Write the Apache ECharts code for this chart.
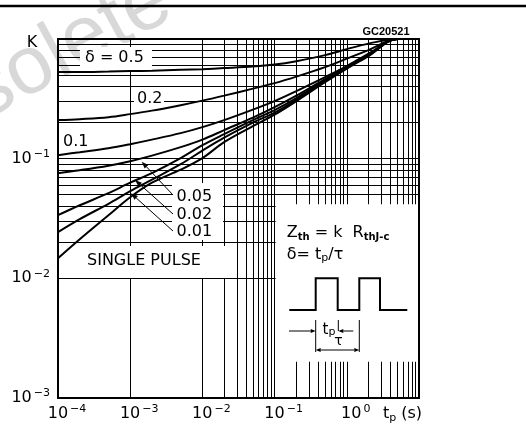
<!DOCTYPE html>
<html>
<head>
<meta charset="utf-8">
<script src="https://cdn.jsdelivr.net/npm/echarts@6/dist/echarts.min.js"></script>
<style>
html, body { margin: 0; padding: 0; background: #fff; }
#chart { width: 526px; height: 432px; }
</style>
</head>
<body>
<div id="chart"></div>
<script>
// pulse duration tp (s)
const tp = [1e-4, 2e-4, 5e-4, 1e-3, 2e-3, 5e-3, 1e-2, 2e-2, 5e-2, 1e-1, 2e-1, 5e-1, 1, 2, 5, 10];

// K = Zth / RthJ-c, one array per duty cycle
const k050 = [0.529, 0.529, 0.534, 0.539, 0.544, 0.553, 0.56, 0.571, 0.588, 0.611, 0.653, 0.733, 0.823, 0.915, 1, 1];
const k020 = [0.21, 0.214, 0.222, 0.2356, 0.252, 0.28, 0.3054, 0.3364, 0.3848, 0.4278, 0.485, 0.5823, 0.6857, 0.8076, 1, 1];
const k010 = [0.107, 0.1133, 0.1224, 0.1322, 0.1442, 0.1634, 0.1834, 0.2099, 0.2569, 0.3025, 0.3667, 0.4802, 0.5935, 0.755, 1, 1];
const k005 = [0.0757, 0.0801, 0.0874, 0.0953, 0.106, 0.1248, 0.1442, 0.1731, 0.2202, 0.2695, 0.3364, 0.4622, 0.5823, 0.7406, 1, 1];
const k002 = [0.0337, 0.0408, 0.0515, 0.063, 0.0757, 0.101, 0.1297, 0.1603, 0.2099, 0.2544, 0.3205, 0.4534, 0.5767, 0.7334, 1, 1];
const k001 = [0.0243, 0.0312, 0.042, 0.0535, 0.0667, 0.0899, 0.1167, 0.1498, 0.2, 0.2425, 0.3113, 0.4446, 0.571, 0.7263, 1, 1];
const kSingle = [0.01473, 0.02123, 0.0337, 0.0476, 0.063, 0.0809, 0.101, 0.1374, 0.1869, 0.2333, 0.3025, 0.4362, 0.5655, 0.7194, 1, 1];

// tick labels (exponents) and log grid
const xExp = ['−4', '−3', '−2', '−1', '0'];
const yExp = ['−3', '−2', '−1'];
const xDecades = [1e-4, 1e-3, 1e-2, 1e-1, 1];
const yDecades = [1e-3, 1e-2, 1e-1];
const minorSteps = [2, 3, 4, 5, 6, 7, 8, 9];

const FONT = 'DejaVu Sans';
const chart = echarts.init(document.getElementById('chart'));

function curve(vals) {
    return {
        type: 'line',
        data: tp.map((t, i) => [t, vals[i]]),
        symbol: 'none',
        smooth: 0.35,
        silent: true,
        z: 10,
        lineStyle: { color: '#000', width: 2 }
    };
}

let minorLines = [];
xDecades.forEach(d => minorSteps.forEach(m => minorLines.push({ xAxis: m * d })));
yDecades.forEach(d => minorSteps.forEach(m => minorLines.push({ yAxis: m * d })));

// annotation helpers
function box(x, y, w, h) {
    return { type: 'rect', zlevel: 1, z: 6, z2: 0, silent: true, shape: { x: x, y: y, width: w, height: h }, style: { fill: '#fff' } };
}
function text(x, y, t, extra) {
    return {
        type: 'text', zlevel: 1, z: 6, z2: 20, silent: true, x: x, y: y,
        style: Object.assign({ text: t, fontFamily: FONT, fontSize: 16, fill: '#000', align: 'left', verticalAlign: 'middle' }, extra || {})
    };
}
function seg(x1, y1, x2, y2, w) {
    return { type: 'line', zlevel: 1, z: 6, z2: 20, silent: true, shape: { x1: x1, y1: y1, x2: x2, y2: y2 }, style: { stroke: '#000', lineWidth: w || 1 } };
}
function arrow(x1, y1, x2, y2, len, half) {
    let a = Math.atan2(y2 - y1, x2 - x1);
    let bx = x2 - len * Math.cos(a), by = y2 - len * Math.sin(a);
    let px = -Math.sin(a) * half, py = Math.cos(a) * half;
    return [
        seg(x1, y1, bx, by, 1),
        { type: 'polygon', zlevel: 1, z: 6, z2: 20, silent: true, shape: { points: [[x2, y2], [bx + px, by + py], [bx - px, by - py]] }, style: { fill: '#000' } }
    ];
}

const supRich = {
    b: { fontFamily: FONT, fontSize: 16, lineHeight: 20, color: '#000' },
    bx: { fontFamily: FONT, fontSize: 16, lineHeight: 20, color: '#000', padding: [0, 0, 0, 18] },
    e: { fontFamily: FONT, fontSize: 11, lineHeight: 11, verticalAlign: 'top', color: '#000', padding: [0, 0, 0, 2] },
    t: { fontFamily: FONT, fontSize: 16, lineHeight: 20, color: '#000' },
    t2: { fontFamily: FONT, fontSize: 16, lineHeight: 20, color: '#000', padding: [0, 33, 0, 0] },
    p: { fontFamily: FONT, fontSize: 11, lineHeight: 11, verticalAlign: 'bottom', color: '#000' }
};

const subRich = {
    m: { fontFamily: FONT, fontSize: 16, lineHeight: 18 },
    s: { fontFamily: FONT, fontSize: 10, fontWeight: 'bold', lineHeight: 10, verticalAlign: 'bottom' }
};

let graphics = [
    // watermark, kept on the base layer under the plot
    { type: 'text', zlevel: 0, z: -1, silent: true, x: -103, y: 189, rotation: 0.5,
      style: { text: 'Obsolete', fontFamily: 'Liberation Sans', fontSize: 82, fill: '#d8d8d8', align: 'left', verticalAlign: 'bottom' } },
    seg(0, 6, 526, 6, 2.5),
    text(386, 32, 'GC20521', { fontFamily: 'Liberation Sans', fontWeight: 'bold', fontSize: 11, align: 'center' }),
    text(32, 43, 'K', { align: 'center' }),
    // label boxes
    box(80, 47, 72, 23),
    box(134, 91.5, 30, 15.5),
    box(62, 135, 26, 13),
    box(172, 183, 51, 57),
    box(80, 246, 156, 32),
    box(275.6, 204.3, 142.4, 157.4),
    text(85, 57.5, 'δ = 0.5'),
    text(137, 99, '0.2'),
    text(63, 141.7, '0.1'),
    text(176.5, 197, '0.05'),
    text(176.5, 214.5, '0.02'),
    text(176.5, 232, '0.01'),
    text(87, 260.5, 'SINGLE PULSE'),
    // formula box
    text(286.7, 233, '{m|Z}{s|th}{m| = k  R}{s|thJ-c}', { rich: subRich }),
    text(286.7, 254.5, '{m|δ= t}{s|p}{m|/τ}', { rich: { m: subRich.m, s: { fontFamily: FONT, fontSize: 11, lineHeight: 10, verticalAlign: 'bottom' } } }),
    { type: 'polyline', zlevel: 1, z: 6, z2: 20, silent: true,
      shape: { points: [[289.3, 310], [315.7, 310], [315.7, 278.3], [337.7, 278.3], [337.7, 310], [359.3, 310], [359.3, 278.3], [380, 278.3], [380, 310], [407.3, 310]] },
      style: { stroke: '#000', lineWidth: 2, fill: null } },
    seg(315.7, 320, 315.7, 352),
    seg(338.3, 320, 338.3, 331),
    seg(359.3, 320, 359.3, 352),
    text(322.5, 330, '{m|t}{s|p}', { rich: { m: { fontFamily: FONT, fontSize: 15, lineHeight: 16 }, s: { fontFamily: FONT, fontSize: 11, lineHeight: 10, verticalAlign: 'bottom' } } }),
    text(338.5, 341, 'τ', { align: 'center', fontSize: 14 })
];
graphics = graphics.concat(
    arrow(289, 331, 315.7, 331, 5, 2),
    arrow(353.3, 331, 338.3, 331, 5, 2),
    arrow(337, 350, 315.7, 350, 5, 2),
    arrow(337, 350, 359.3, 350, 5, 2),
    arrow(173, 195, 141.7, 161.7, 7, 2.5),
    arrow(173, 214, 135, 180, 7, 2.5),
    arrow(173, 231, 131, 193.3, 7, 2.5)
);

const option = {
    animation: false,
    backgroundColor: '#fff',
    grid: {
        left: 58, top: 39, width: 361, height: 359,
        show: true, borderColor: '#000', borderWidth: 2,
        outerBoundsMode: 'none'
    },
    xAxis: {
        type: 'log',
        logBase: 10,
        min: 1e-4,
        max: 10,
        axisLine: { show: true, lineStyle: { color: '#000', width: 2 } },
        axisTick: { show: false },
        splitLine: { show: true, lineStyle: { color: '#000', width: 1 } },
        axisLabel: {
            margin: 6,
            formatter: function (v) {
                let e = Math.round(Math.log10(v));
                if (e === 1) return '{t|t}{p|p}{t2| (s)}';
                return '{bx|10}{e|' + xExp[e + 4] + '}';
            },
            rich: supRich
        }
    },
    yAxis: {
        type: 'log',
        logBase: 10,
        min: 1e-3,
        max: 1,
        axisLine: { show: true, lineStyle: { color: '#000', width: 2 } },
        axisTick: { show: false },
        splitLine: { show: true, lineStyle: { color: '#000', width: 1 } },
        axisLabel: {
            margin: 8,
            formatter: function (v) {
                let e = Math.round(Math.log10(v));
                if (e === 0) return '';
                return '{b|10}{e|' + yExp[e + 3] + '}';
            },
            rich: supRich
        }
    },
    series: [
        {
            type: 'line',
            data: [],
            silent: true,
            z: 1,
            markLine: {
                z: 1,
                silent: true,
                animation: false,
                symbol: ['none', 'none'],
                label: { show: false },
                emphasis: { disabled: true },
                lineStyle: { color: '#000', width: 1, type: 'solid' },
                data: minorLines
            }
        },
        curve(k050),
        curve(k020),
        curve(k010),
        curve(k005),
        curve(k002),
        curve(k001),
        curve(kSingle)
    ],
    graphic: { zlevel: 1, z: 6, elements: graphics }
};
chart.setOption(option);
</script>
</body>
</html>
